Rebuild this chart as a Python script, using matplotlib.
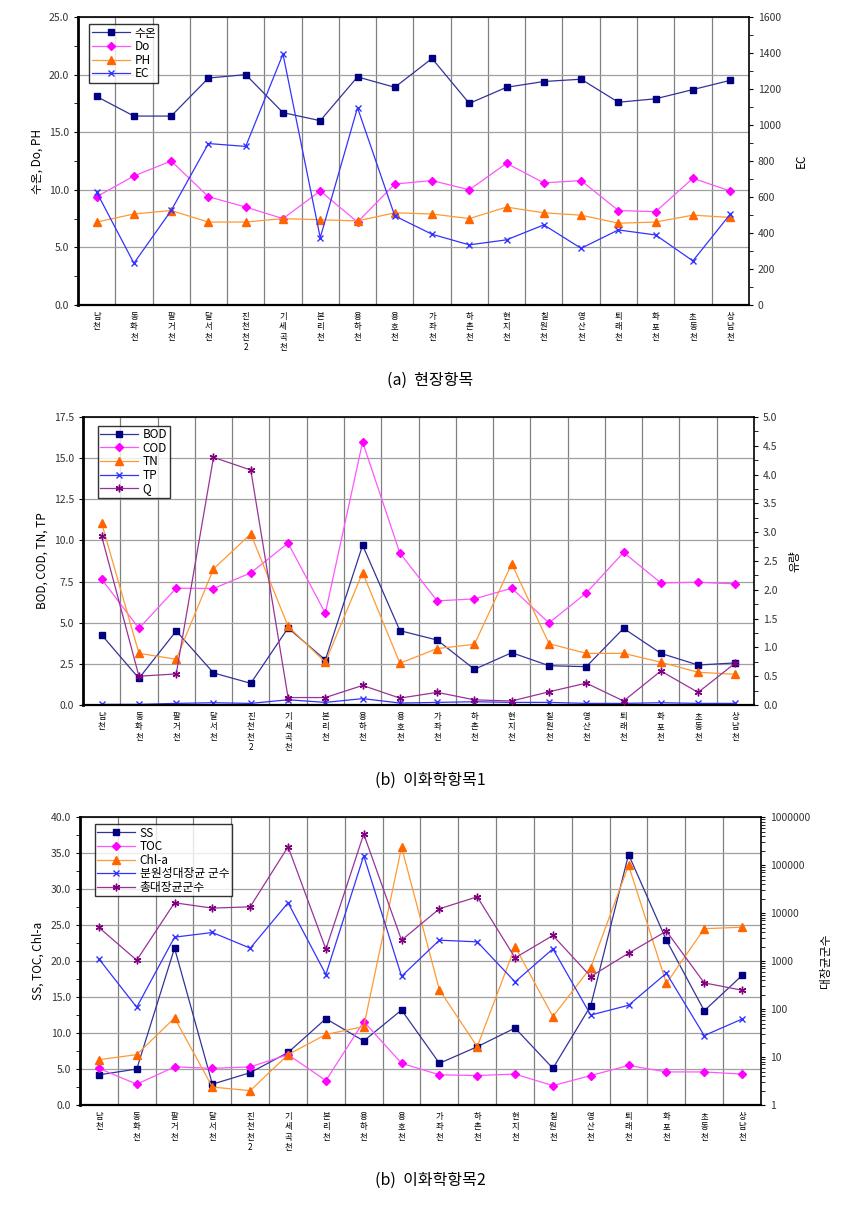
import numpy as np
import matplotlib
matplotlib.use('Agg')
import matplotlib.pyplot as plt
from matplotlib.ticker import MultipleLocator, FixedLocator, NullFormatter

plt.rcParams['font.family'] = ['Noto Sans CJK KR', 'DejaVu Sans']

streams = ['남천', '동화천', '팔거천', '달서천', '진천천2', '기세곡천', '본리천', '용하천', '용호천',
           '가좌천', '하촌천', '현지천', '칠원천', '영산천', '퇴래천', '화포천', '초동천', '상남천']

# (a) 현장항목
temp = [18.1, 16.4, 16.4, 19.7, 20.0, 16.7, 16.0, 19.8, 18.9, 21.4, 17.5, 18.9, 19.4, 19.6, 17.6, 17.9, 18.7, 19.5]
do = [9.4, 11.2, 12.5, 9.4, 8.5, 7.5, 9.9, 7.2, 10.5, 10.8, 10.0, 12.3, 10.6, 10.8, 8.2, 8.1, 11.0, 9.9]
ph = [7.2, 7.9, 8.2, 7.2, 7.2, 7.5, 7.4, 7.3, 8.0, 7.9, 7.5, 8.5, 8.0, 7.8, 7.1, 7.2, 7.8, 7.6]
ec = [627, 232, 525, 897, 881, 1394, 374, 1096, 495, 393, 334, 362, 445, 315, 417, 389, 245, 504]

# (b) 이화학항목1
bod = [4.26, 1.62, 4.50, 1.95, 1.32, 4.68, 2.74, 9.71, 4.52, 3.95, 2.17, 3.18, 2.39, 2.33, 4.66, 3.14, 2.43, 2.56]
cod = [7.65, 4.66, 7.10, 7.08, 8.03, 9.84, 5.58, 15.98, 9.23, 6.33, 6.45, 7.10, 4.99, 6.81, 9.27, 7.42, 7.46, 7.36]
tn = [11.05, 3.14, 2.78, 8.27, 10.40, 4.79, 2.60, 8.05, 2.54, 3.43, 3.69, 8.58, 3.73, 3.14, 3.14, 2.60, 1.99, 1.87]
tp = [0.04, 0.04, 0.10, 0.14, 0.10, 0.32, 0.16, 0.39, 0.12, 0.16, 0.20, 0.16, 0.16, 0.10, 0.10, 0.14, 0.10, 0.10]
q = [2.93, 0.50, 0.54, 4.30, 4.08, 0.13, 0.13, 0.34, 0.12, 0.22, 0.09, 0.07, 0.23, 0.38, 0.07, 0.59, 0.22, 0.73]

# (b) 이화학항목2
ss = [4.2, 5.0, 21.8, 2.9, 4.5, 7.3, 12.0, 8.9, 13.2, 5.8, 8.1, 10.7, 5.1, 13.8, 34.8, 22.9, 13.1, 18.0]
toc = [5.1, 2.9, 5.3, 5.1, 5.3, 7.0, 3.4, 11.6, 5.8, 4.2, 4.1, 4.3, 2.7, 4.1, 5.5, 4.6, 4.6, 4.3]
chla = [6.3, 7.0, 12.1, 2.5, 2.0, 7.0, 9.8, 10.9, 35.8, 16.0, 8.1, 22.0, 12.3, 19.1, 33.3, 16.9, 24.5, 24.7]
fecal = [1112, 109, 3147, 3938, 1855, 16370, 524, 156600, 483, 2723, 2514, 368, 1797, 75, 120, 558, 28, 62]
total = [5012, 1042, 16370, 12670, 13500, 241200, 1770, 443400, 2723, 12270, 21830, 1167, 3410, 476, 1459, 4200, 351, 247]

x = np.arange(len(streams))
tick_labels = ['\n'.join(s) for s in streams]

NAVY = '#000080'
MAG = '#FF00FF'
ORANGE = '#FF6600'
BLUE = '#3333FF'
PURPLE = '#800080'

fig = plt.figure(figsize=(8.48, 12.06), dpi=100)


def setup(rect, ylim, major, minor, fmt):
    ax = fig.add_axes(rect)
    ax.set_xlim(-0.5, len(streams) - 0.5)
    ax.set_ylim(*ylim)
    ax.yaxis.set_major_locator(MultipleLocator(major))
    if minor:
        ax.yaxis.set_minor_locator(MultipleLocator(minor))
    ax.yaxis.set_major_formatter(plt.FuncFormatter(lambda v, p: fmt.format(v)))
    ax.grid(axis='y', color='#a0a0a0', linewidth=0.9)
    for k in range(len(streams) - 1):
        ax.axvline(k + 0.5, color='#808080', linewidth=0.9, zorder=0.5)
    ax.set_xticks(x)
    ax.set_xticklabels(tick_labels, fontsize=6, linespacing=1.2, va='top')
    ax.tick_params(axis='x', length=0, pad=5)
    ax.tick_params(axis='y', labelsize=7.5, length=3, direction='out', colors='black',
                   labelcolor='#333333')
    ax.tick_params(axis='y', which='minor', length=3)
    ax.spines['left'].set_linewidth(2)
    ax.spines['bottom'].set_linewidth(1.6)
    ax.spines['top'].set_linewidth(1.2)
    ax.spines['right'].set_linewidth(1.2)
    return ax


def series(ax, y, color, lc, marker, label, ms=5, mew=1):
    return ax.plot(x, y, color=lc, linewidth=0.9, marker=marker, markersize=ms,
                   markerfacecolor=color, markeredgecolor=color, markeredgewidth=mew,
                   label=label)[0]


def finish(ax, ax2, handles, legend_rect):
    ax2.tick_params(axis='y', labelsize=7.5, length=3, direction='out', labelcolor='#333333')
    ax2.tick_params(axis='y', which='minor', length=3)
    for s in ax2.spines.values():
        s.set_visible(False)
    leg = ax2.legend(handles=handles, loc='upper left', bbox_to_anchor=legend_rect,
                     fontsize=8.5, frameon=True, fancybox=False, edgecolor='black',
                     borderpad=0.2, labelspacing=0.05, handlelength=3.2, handletextpad=0.4,
                     borderaxespad=0)
    leg.get_frame().set_linewidth(1.0)


star = (6, 2, 0)

# ---- panel (a)
ax = setup([0.092, 0.7471, 0.791, 0.2388], (0, 25), 5, 2.5, '{:.1f}')
ax.set_ylabel('수온, Do, PH', fontsize=8.5, labelpad=4)
ax2 = ax.twinx()
ax2.set_ylim(0, 1600)
ax2.yaxis.set_major_locator(MultipleLocator(200))
ax2.yaxis.set_minor_locator(MultipleLocator(100))
ax2.set_ylabel('EC', fontsize=8.5, rotation=90, labelpad=10)
h = [series(ax, temp, NAVY, '#333399', 's', '수온', ms=5),
     series(ax, do, MAG, '#FF55FF', 'D', 'Do', ms=3.8),
     series(ax, ph, ORANGE, '#FF9933', '^', 'PH', ms=5.5),
     series(ax2, ec, BLUE, '#3333FF', 'x', 'EC', ms=4.5)]
finish(ax, ax2, h, (0.017, 0.975))
fig.text(0.507, 0.685, '(a)  현장항목', ha='center', va='center', fontsize=11.5)

# ---- panel (b) 1
ax = setup([0.0979, 0.4154, 0.7913, 0.2388], (0, 17.5), 2.5, None, '{:.1f}')
ax.set_ylabel('BOD, COD, TN, TP', fontsize=8.5, labelpad=4)
ax2 = ax.twinx()
ax2.set_ylim(0, 5)
ax2.yaxis.set_major_locator(MultipleLocator(0.5))
ax2.yaxis.set_minor_locator(MultipleLocator(0.25))
ax2.yaxis.set_major_formatter(plt.FuncFormatter(lambda v, p: '{:.1f}'.format(v)))
ax2.set_ylabel('유량', fontsize=8.5, rotation=90, labelpad=8)
h = [series(ax, bod, NAVY, '#333399', 's', 'BOD', ms=5),
     series(ax, cod, MAG, '#FF55FF', 'D', 'COD', ms=3.8),
     series(ax, tn, ORANGE, '#FF9933', '^', 'TN', ms=5.5),
     series(ax, tp, BLUE, '#3333FF', 'x', 'TP', ms=4.5),
     series(ax2, q, PURPLE, '#993399', star, 'Q', ms=5.5)]
finish(ax, ax2, h, (0.022, 0.97))
fig.text(0.507, 0.353, '(b)  이화학항목1', ha='center', va='center', fontsize=11.5)

# ---- panel (b) 2
ax = setup([0.0943, 0.0837, 0.8031, 0.2388], (0, 40), 5, 2.5, '{:.1f}')
ax.set_ylabel('SS, TOC, Chl-a', fontsize=8.5, labelpad=4)
ax2 = ax.twinx()
ax2.set_yscale('log')
ax2.set_ylim(1, 1e6)
ax2.yaxis.set_major_locator(FixedLocator([1, 10, 100, 1000, 1e4, 1e5, 1e6]))
ax2.yaxis.set_major_formatter(plt.FuncFormatter(lambda v, p: '{:d}'.format(int(round(v)))))
ax2.yaxis.set_minor_formatter(NullFormatter())
ax2.set_ylabel('대장균군수', fontsize=8.5, rotation=90, labelpad=6)
h = [series(ax, ss, NAVY, '#333399', 's', 'SS', ms=5),
     series(ax, toc, MAG, '#FF55FF', 'D', 'TOC', ms=3.8),
     series(ax, chla, ORANGE, '#FF9933', '^', 'Chl-a', ms=5.5),
     series(ax2, fecal, BLUE, '#3333FF', 'x', '분원성대장균 군수', ms=4.5),
     series(ax2, total, PURPLE, '#993399', star, '총대장균군수', ms=5.5)]
finish(ax, ax2, h, (0.022, 0.975))
fig.text(0.507, 0.0216, '(b)  이화학항목2', ha='center', va='center', fontsize=11.5)

fig.savefig('out.png', dpi=100)
